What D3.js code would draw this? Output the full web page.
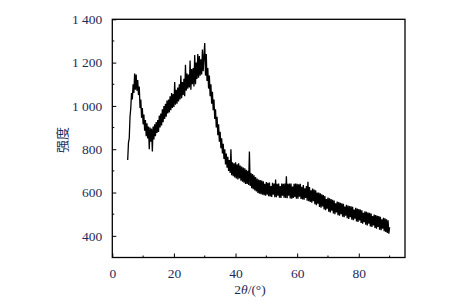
<!DOCTYPE html>
<html><head><meta charset="utf-8">
<script src="https://cdn.jsdelivr.net/npm/d3@7"></script>
<style>body{margin:0;background:#fff}</style>
</head><body>
<svg id="c" width="451" height="304"></svg>
<script>
// 2θ sampling: start angle and step (degrees)
const angleStart = 5, angleStep = 0.25;
// intensity, one row per degree (5°..90°)
const intensity = [
750,830,850,950,
990,1060,1030,1100,
1060,1150,1075,1145,
1070,1120,1050,1090,
990,1030,945,990,
915,960,885,935,
860,920,850,905,
800,900,835,895,
790,905,845,915,
860,925,875,935,
880,955,900,965,
910,985,925,1000,
940,1010,950,1025,
965,1030,970,1045,
980,1060,990,1055,
995,1110,1005,1075,
1010,1085,1020,1100,
1030,1140,1035,1110,
1050,1125,1045,1190,
1070,1150,1080,1145,
1085,1210,1075,1170,
1100,1175,1090,1235,
1100,1200,1125,1240,
1130,1230,1140,1215,
1145,1260,1160,1230,
1290,1140,1240,1115,
1175,1080,1140,1045,
1100,1010,1065,980,
1030,940,985,900,
950,865,915,835,
880,805,850,780,
825,755,800,730,
780,715,765,700,
750,690,800,680,
740,675,735,670,
740,665,730,660,
735,665,725,655,
720,650,715,645,
712,640,705,640,
700,635,790,630,
690,620,685,615,
680,610,672,605,
665,598,660,595,
658,592,655,590,
652,588,640,585,
648,590,645,583,
646,582,630,580,
645,590,642,578,
660,578,640,585,
642,576,630,575,
641,585,640,576,
642,575,675,574,
640,585,641,573,
642,572,628,575,
640,580,641,572,
640,572,638,581,
640,570,626,568,
635,567,620,575,
630,562,650,560,
625,556,610,553,
618,560,614,546,
610,542,600,548,
600,533,596,530,
592,536,588,522,
584,518,570,525,
577,512,574,508,
570,516,567,503,
563,500,550,508,
558,495,556,493,
553,500,550,488,
548,486,535,493,
543,481,540,478,
538,486,536,474,
534,472,521,479,
529,466,526,464,
524,471,521,459,
518,456,506,463,
513,451,511,448,
508,456,506,443,
503,441,491,448,
498,436,496,433,
493,441,491,428,
488,426,476,433,
483,421,481,418,
476,413,472,410,
440
];
const xTicks = [0, 20, 40, 60, 80];
const yTicks = [400, 600, 800, 1000, 1200, 1400];
const xTitle = ["2", "θ", "/(°)"];
const yTitle = "强度";

const svg = d3.select("#c");
const L = 112.3, R = 405, T = 19.3, B = 257.5;
const x = d3.scaleLinear().domain([0, 95]).range([L, R]);
const y = d3.scaleLinear().domain([300, 1400]).range([B, T]);
const txt = "#1e2c58";
const font = "Liberation Serif, serif";

const data = intensity.map((v, i) => [angleStart + i * angleStep, v]);

// curve
svg.append("path").datum(data)
  .attr("fill", "none").attr("stroke", "#000").attr("stroke-width", 1.3)
  .attr("stroke-linejoin", "bevel")
  .attr("d", d3.line().x(d => x(d[0])).y(d => y(d[1])));

// frame
svg.append("rect").attr("x", L).attr("y", T).attr("width", R - L).attr("height", B - T)
  .attr("fill", "none").attr("stroke", "#000").attr("stroke-width", 1.3);

// minor ticks
const xMinor = d3.range(10, 95, 20);
const yMinor = d3.range(300, 1400, 200).filter(v => v > 300);
svg.append("g").selectAll("line").data(xMinor).join("line")
  .attr("x1", d => x(d)).attr("x2", d => x(d)).attr("y1", B).attr("y2", B - 2)
  .attr("stroke", "#000").attr("stroke-width", 1);
svg.append("g").selectAll("line").data(yMinor).join("line")
  .attr("y1", d => y(d)).attr("y2", d => y(d)).attr("x1", L).attr("x2", L + 2)
  .attr("stroke", "#000").attr("stroke-width", 1);

// axes with inward major ticks
const xAxis = d3.axisBottom(x).tickValues(xTicks).tickSizeInner(-4).tickSizeOuter(0).tickPadding(11)
  .tickFormat(d3.format("d"));
const gx = svg.append("g").attr("transform", `translate(0,${B})`).call(xAxis);
gx.select(".domain").remove();
gx.attr("font-family", font).attr("font-size", 13.5);
gx.selectAll("line").attr("stroke", "#000").attr("stroke-width", 1);
gx.selectAll("text").attr("fill", txt);

const fmtY = d => d >= 1000 ? Math.floor(d / 1000) + " " + String(d % 1000).padStart(3, "0") : String(d);
const yAxis = d3.axisLeft(y).tickValues(yTicks).tickSizeInner(-4).tickSizeOuter(0).tickPadding(10)
  .tickFormat(fmtY);
const gy = svg.append("g").attr("transform", `translate(${L},0)`).call(yAxis);
gy.select(".domain").remove();
gy.attr("font-family", font).attr("font-size", 13.5);
gy.selectAll("line").attr("stroke", "#000").attr("stroke-width", 1);
gy.selectAll("text").attr("fill", txt);

// titles
const xt = svg.append("text").attr("x", 250).attr("y", 294).attr("text-anchor", "middle")
  .attr("font-family", font).attr("font-size", 13.5).attr("fill", txt);
xt.append("tspan").text(xTitle[0]);
xt.append("tspan").attr("font-style", "italic").text(xTitle[1]);
xt.append("tspan").text(xTitle[2]);

svg.append("text").attr("transform", "translate(67,140) rotate(-90)")
  .attr("text-anchor", "middle").attr("font-family", "Noto Sans CJK SC, sans-serif")
  .attr("font-size", 13).attr("fill", txt).text(yTitle);
</script>
</body></html>
